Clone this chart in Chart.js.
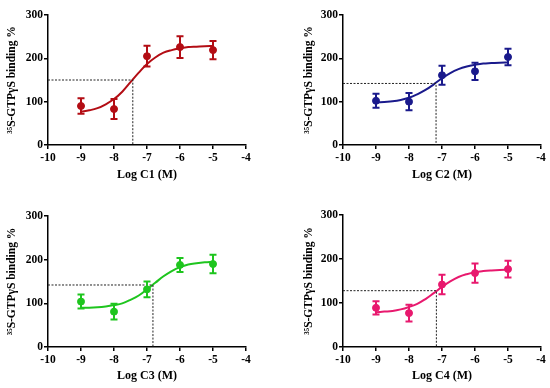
<!DOCTYPE html>
<html>
<head>
<meta charset="utf-8">
<script src="https://cdn.jsdelivr.net/npm/chart.js@4/dist/chart.umd.min.js"></script>
<style>
body { margin: 0; background: #fff; width: 550px; height: 388px; position: relative; overflow: hidden; }
.p { position: absolute; width: 275px; height: 194px; }
</style>
</head>
<body>
<div class="p" style="left:0;top:0"><canvas id="c1" width="275" height="194"></canvas></div>
<div class="p" style="left:275px;top:0"><canvas id="c2" width="275" height="194"></canvas></div>
<div class="p" style="left:0;top:194px"><canvas id="c3" width="275" height="194"></canvas></div>
<div class="p" style="left:275px;top:194px"><canvas id="c4" width="275" height="194"></canvas></div>
<script>
// log concentrations of the measured points
var doses = [-9, -8, -7, -6, -5];
var curveX = [-9, -8.75, -8.5, -8.25, -8, -7.75, -7.5, -7.25, -7, -6.75, -6.5, -6.25, -6, -5.75, -5.5, -5.25, -5];

var c1Mean = [90, 83, 205, 226, 219];
var c1Err = [18, 23, 24, 25, 21];
var c1Curve = [77, 80, 85, 94, 106, 123, 145, 167, 187, 202, 213, 219, 223, 226, 227, 228, 228.5];
var c1Ec50 = [-7.43, 150];

var c2Mean = [102, 100, 161, 170, 203];
var c2Err = [16, 20, 22, 20, 19];
var c2Curve = [98, 99.5, 101, 104, 109, 117, 127, 140, 154, 166, 175, 181, 185, 188, 189, 190, 190.5];
var c2Ec50 = [-7.18, 142];

var c3Mean = [104, 81, 132, 188, 190];
var c3Err = [16, 18, 18, 16, 21];
var c3Curve = [90, 90, 91, 93, 96, 100, 108, 118, 132, 147, 162, 174, 183, 189, 192, 194, 195];
var c3Ec50 = [-6.82, 142];

var c4Mean = [89, 77, 142, 168, 177];
var c4Err = [15, 19, 22, 22, 19];
var c4Curve = [79, 80.5, 82, 85.5, 91, 98, 109, 122.5, 136.5, 149, 159, 165.5, 170, 172.5, 174, 175, 175.5];
var c4Ec50 = [-7.17, 128];

var xTicks = [-10, -9, -8, -7, -6, -5, -4];
var yTicks = [0, 100, 200, 300];
var yTitle = '\u00B3\u2075S-GTP\u03B3S binding %';

var serif = '"Liberation Serif", "DejaVu Serif", serif';

var errorBars = {
    id: 'errorBars',
    afterDatasetsDraw: function (chart) {
        var c = chart.ctx;
        chart.data.datasets.forEach(function (ds, i) {
            if (!ds.err) return;
            var xs = chart.scales.x, ys = chart.scales.y;
            c.save();
            c.strokeStyle = ds.borderColor;
            c.lineWidth = 2;
            ds.data.forEach(function (p, j) {
                var px = xs.getPixelForValue(p.x);
                var top = ys.getPixelForValue(p.y + ds.err[j]);
                var bot = ys.getPixelForValue(p.y - ds.err[j]);
                c.beginPath();
                c.moveTo(px, top); c.lineTo(px, bot);
                c.moveTo(px - 3.5, top); c.lineTo(px + 3.5, top);
                c.moveTo(px - 3.5, bot); c.lineTo(px + 3.5, bot);
                c.stroke();
            });
            c.restore();
        });
    }
};

function makeChart(id, label, color, mean, err, curve, ec50, box) {
    var pts = doses.map(function (d, i) { return { x: d, y: mean[i] }; });
    var line = curveX.map(function (d, i) { return { x: d, y: curve[i] }; });
    var dash = [{ x: -10, y: ec50[1] }, { x: ec50[0], y: ec50[1] }, { x: ec50[0], y: 0 }];
    return new Chart(document.getElementById(id), {
        type: 'scatter',
        data: {
            datasets: [{
                data: dash,
                showLine: true,
                borderColor: '#222',
                borderWidth: 1,
                borderDash: [2, 1.5],
                pointRadius: 0,
                tension: 0
            }, {
                data: line,
                showLine: true,
                borderColor: color,
                borderWidth: 2,
                pointRadius: 0,
                tension: 0.4
            }, {
                data: pts,
                err: err,
                borderColor: color,
                backgroundColor: color,
                pointRadius: 3.5,
                showLine: false
            }]
        },
        options: {
            responsive: false,
            animation: false,
            layout: { padding: { left: box.pl, right: box.pr, top: box.pt, bottom: box.pb } },
            plugins: { legend: { display: false }, tooltip: { enabled: false } },
            scales: {
                x: {
                    type: 'linear', min: -10, max: -4,
                    afterBuildTicks: function (s) { s.ticks = xTicks.map(function (v) { return { value: v }; }); },
                    afterFit: function (s) { s.height = box.xh; },
                    grid: { drawOnChartArea: false, drawTicks: true, tickLength: 4, color: '#000', lineWidth: 1.5 },
                    border: { display: true, color: '#000', width: 1.5 },
                    ticks: { color: '#000', padding: 2, font: { family: serif, size: 11.5, weight: 'bold' } },
                    title: { display: true, text: label, color: '#000', padding: 0, font: { family: serif, size: 12, weight: 'bold' } }
                },
                y: {
                    min: 0, max: 300,
                    afterBuildTicks: function (s) { s.ticks = yTicks.map(function (v) { return { value: v }; }); },
                    afterFit: function (s) { s.width = box.yw; },
                    grid: { drawOnChartArea: false, drawTicks: true, tickLength: 4, color: '#000', lineWidth: 1.5 },
                    border: { display: true, color: '#000', width: 1.5 },
                    ticks: { color: '#000', padding: 1, font: { family: serif, size: 11.5, weight: 'bold' } },
                    title: { display: true, text: yTitle, color: '#000', padding: 0, font: { family: serif, size: 11.5, weight: 'bold' } }
                }
            }
        },
        plugins: [errorBars]
    });
}

makeChart('c1', 'Log C1 (M)', '#b30d14', c1Mean, c1Err, c1Curve, c1Ec50, { pl: 5, yw: 43, pr: 29, pt: 15, pb: 12, xh: 37 });
makeChart('c2', 'Log C2 (M)', '#1a1a8c', c2Mean, c2Err, c2Curve, c2Ec50, { pl: 27, yw: 41, pr: 9, pt: 15, pb: 12, xh: 37 });
makeChart('c3', 'Log C3 (M)', '#1ec51e', c3Mean, c3Err, c3Curve, c3Ec50, { pl: 5, yw: 43, pr: 29, pt: 22, pb: 5, xh: 36 });
makeChart('c4', 'Log C4 (M)', '#e8196e', c4Mean, c4Err, c4Curve, c4Ec50, { pl: 27, yw: 41, pr: 9, pt: 21, pb: 5, xh: 36 });
</script>
</body>
</html>
